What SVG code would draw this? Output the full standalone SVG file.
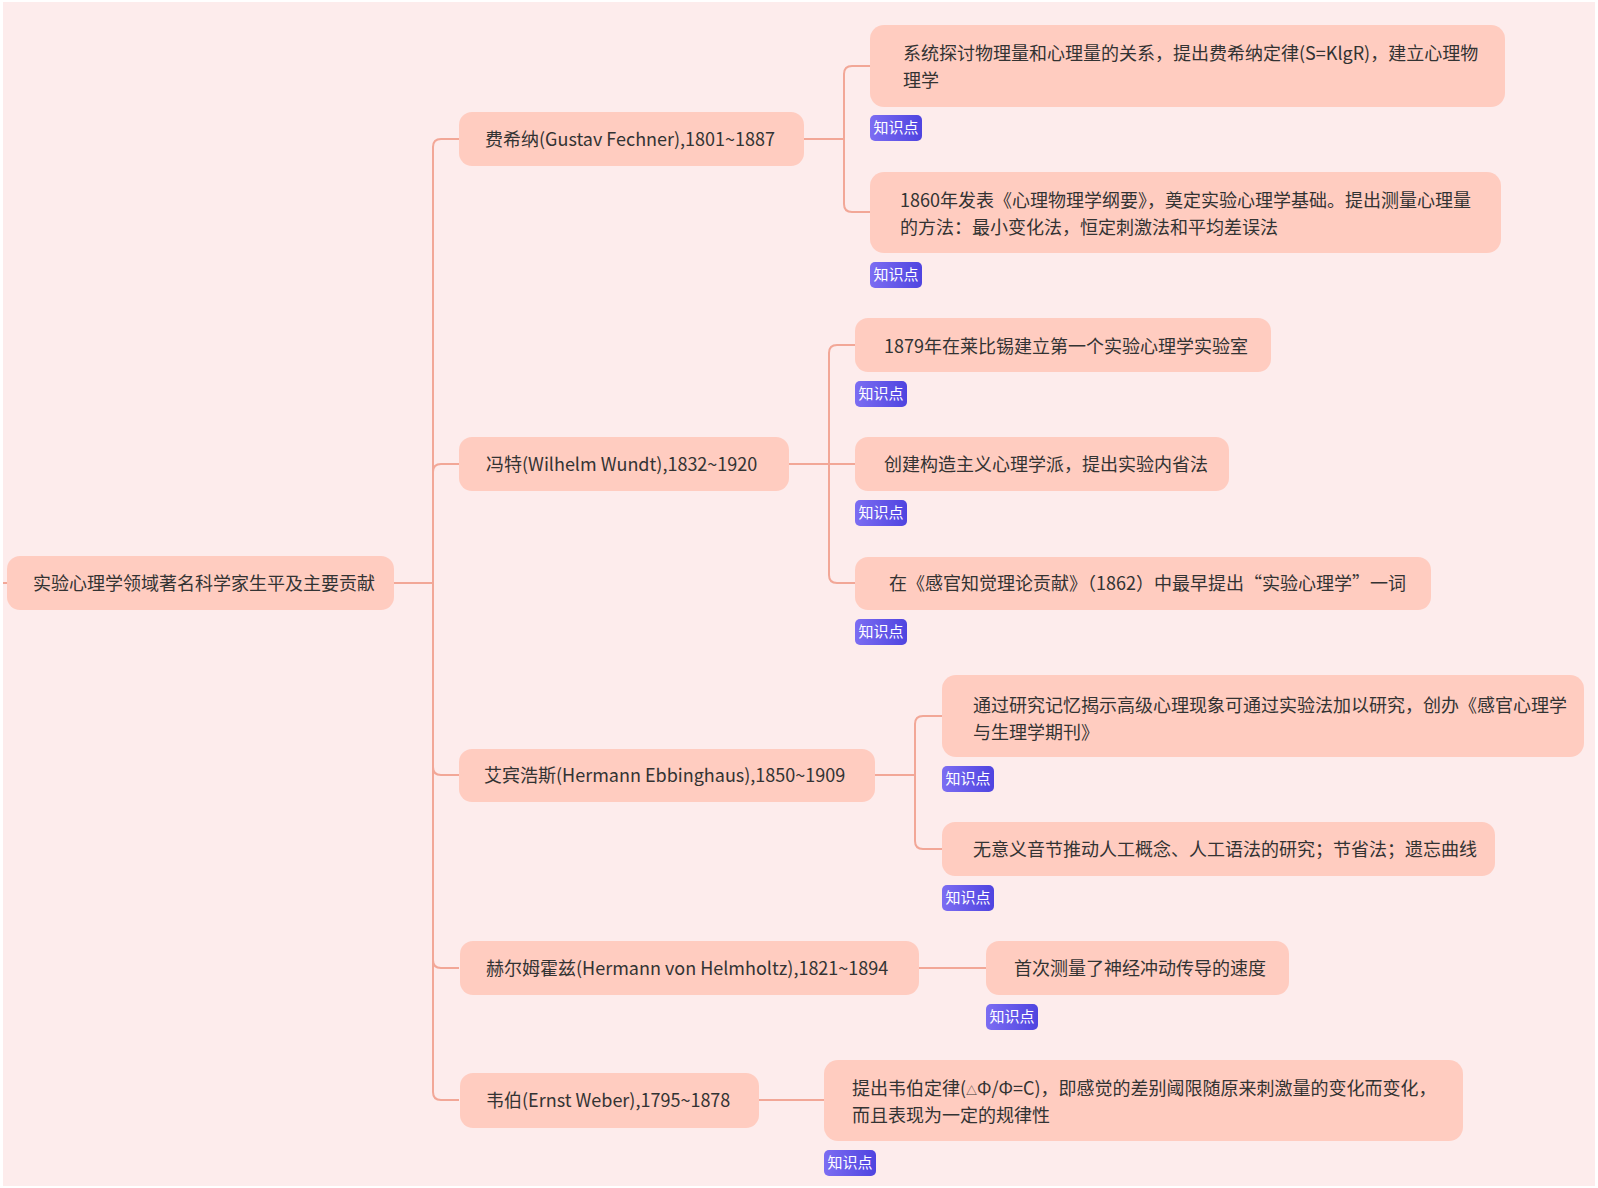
<svg xmlns="http://www.w3.org/2000/svg" width="1598" height="1188" viewBox="0 0 1598 1188">
<defs>
<linearGradient id="bg" x1="0" y1="0" x2="1" y2="0">
<stop offset="0" stop-color="#7C6DF2"/>
<stop offset="1" stop-color="#4F44E0"/>
</linearGradient>
<style>
.n{fill:#FFCCC0;}
.t{font-family:"Noto Sans CJK SC","Microsoft YaHei",sans-serif;font-size:18px;fill:#333333;}
.b{fill:url(#bg);}
.bt{font-family:"Noto Sans CJK SC",sans-serif;font-size:15px;fill:#ffffff;}
.c{fill:none;stroke:#F2A797;stroke-width:2;}
</style>
</defs>
<rect x="0" y="0" width="1598" height="1188" fill="#ffffff"/>
<rect x="3" y="2" width="1592" height="1184" fill="#FDECEC"/>
<g id="connectors">
<path class="c" d="M3,583 H7"/>
<path class="c" d="M394,583 H433"/>
<path class="c" d="M433,583 V147 Q433,139 441,139 H459"/>
<path class="c" d="M433,583 V472 Q433,464 441,464 H459"/>
<path class="c" d="M433,583 V767 Q433,775 441,775 H459"/>
<path class="c" d="M433,583 V960 Q433,968 441,968 H459"/>
<path class="c" d="M433,583 V1092 Q433,1100 441,1100 H459"/>
<path class="c" d="M804,139 H844 V74 Q844,66 852,66 H870"/>
<path class="c" d="M844,139 V204 Q844,212 852,212 H870"/>
<path class="c" d="M789,464 H855"/>
<path class="c" d="M829,464 V353 Q829,345 837,345 H855"/>
<path class="c" d="M829,464 V575 Q829,583 837,583 H855"/>
<path class="c" d="M875,775 H915 V724 Q915,716 923,716 H942"/>
<path class="c" d="M915,775 V841 Q915,849 923,849 H942"/>
<path class="c" d="M919,968 H986"/>
<path class="c" d="M759,1100 H824"/>
</g>
<g id="root">
<rect class="n" x="7" y="556" width="387" height="54" rx="13"/>
<text class="t" x="33" y="590">实验心理学领域著名科学家生平及主要贡献</text>
</g>
<g id="fechner">
<rect class="n" x="459" y="112" width="345" height="54" rx="13"/>
<text class="t" x="485" y="146">费希纳(Gustav Fechner),1801~1887</text>
</g>
<g id="fechner-1">
<rect class="n" x="870" y="25" width="635" height="82" rx="14"/>
<text class="t" x="903" y="60">系统探讨物理量和心理量的关系，提出费希纳定律(S=KlgR)，建立心理物</text>
<text class="t" x="903" y="87">理学</text>
<rect class="b" x="870" y="115" width="52" height="26" rx="5"/>
<text class="bt" x="896" y="133" text-anchor="middle">知识点</text>
</g>
<g id="fechner-2">
<rect class="n" x="870" y="172" width="631" height="81" rx="14"/>
<text class="t" x="900" y="207">1860年发表《心理物理学纲要》，奠定实验心理学基础。提出测量心理量</text>
<text class="t" x="900" y="234">的方法：最小变化法，恒定刺激法和平均差误法</text>
<rect class="b" x="870" y="262" width="52" height="26" rx="5"/>
<text class="bt" x="896" y="280" text-anchor="middle">知识点</text>
</g>
<g id="wundt">
<rect class="n" x="459" y="437" width="330" height="54" rx="13"/>
<text class="t" x="486" y="471">冯特(Wilhelm Wundt),1832~1920</text>
</g>
<g id="wundt-1">
<rect class="n" x="855" y="318" width="416" height="54" rx="13"/>
<text class="t" x="884" y="353">1879年在莱比锡建立第一个实验心理学实验室</text>
<rect class="b" x="855" y="381" width="52" height="26" rx="5"/>
<text class="bt" x="881" y="399" text-anchor="middle">知识点</text>
</g>
<g id="wundt-2">
<rect class="n" x="855" y="437" width="374" height="54" rx="13"/>
<text class="t" x="884" y="471">创建构造主义心理学派，提出实验内省法</text>
<rect class="b" x="855" y="500" width="52" height="26" rx="5"/>
<text class="bt" x="881" y="518" text-anchor="middle">知识点</text>
</g>
<g id="wundt-3">
<rect class="n" x="855" y="557" width="576" height="53" rx="13"/>
<text class="t" x="889" y="590">在《感官知觉理论贡献》（1862）中最早提出“实验心理学”一词</text>
<rect class="b" x="855" y="619" width="52" height="26" rx="5"/>
<text class="bt" x="881" y="637" text-anchor="middle">知识点</text>
</g>
<g id="ebbinghaus">
<rect class="n" x="459" y="749" width="416" height="53" rx="13"/>
<text class="t" x="484" y="782">艾宾浩斯(Hermann Ebbinghaus),1850~1909</text>
</g>
<g id="ebbinghaus-1">
<rect class="n" x="942" y="675" width="642" height="82" rx="14"/>
<text class="t" x="973" y="712">通过研究记忆揭示高级心理现象可通过实验法加以研究，创办《感官心理学</text>
<text class="t" x="973" y="739">与生理学期刊》</text>
<rect class="b" x="942" y="766" width="52" height="26" rx="5"/>
<text class="bt" x="968" y="784" text-anchor="middle">知识点</text>
</g>
<g id="ebbinghaus-2">
<rect class="n" x="942" y="822" width="553" height="54" rx="13"/>
<text class="t" x="973" y="856">无意义音节推动人工概念、人工语法的研究；节省法；遗忘曲线</text>
<rect class="b" x="942" y="885" width="52" height="26" rx="5"/>
<text class="bt" x="968" y="903" text-anchor="middle">知识点</text>
</g>
<g id="helmholtz">
<rect class="n" x="460" y="941" width="459" height="54" rx="13"/>
<text class="t" x="486" y="975">赫尔姆霍兹(Hermann von Helmholtz),1821~1894</text>
</g>
<g id="helmholtz-1">
<rect class="n" x="986" y="941" width="303" height="54" rx="13"/>
<text class="t" x="1014" y="975">首次测量了神经冲动传导的速度</text>
<rect class="b" x="986" y="1004" width="52" height="26" rx="5"/>
<text class="bt" x="1012" y="1022" text-anchor="middle">知识点</text>
</g>
<g id="weber">
<rect class="n" x="460" y="1073" width="299" height="55" rx="13"/>
<text class="t" x="486" y="1107">韦伯(Ernst Weber),1795~1878</text>
</g>
<g id="weber-1">
<rect class="n" x="824" y="1060" width="639" height="81" rx="14"/>
<text class="t" x="852" y="1095">提出韦伯定律(<tspan font-size="11">△</tspan>Φ/Φ=C)，即感觉的差别阈限随原来刺激量的变化而变化，</text>
<text class="t" x="852" y="1122">而且表现为一定的规律性</text>
<rect class="b" x="824" y="1150" width="52" height="26" rx="5"/>
<text class="bt" x="850" y="1168" text-anchor="middle">知识点</text>
</g>
</svg>
